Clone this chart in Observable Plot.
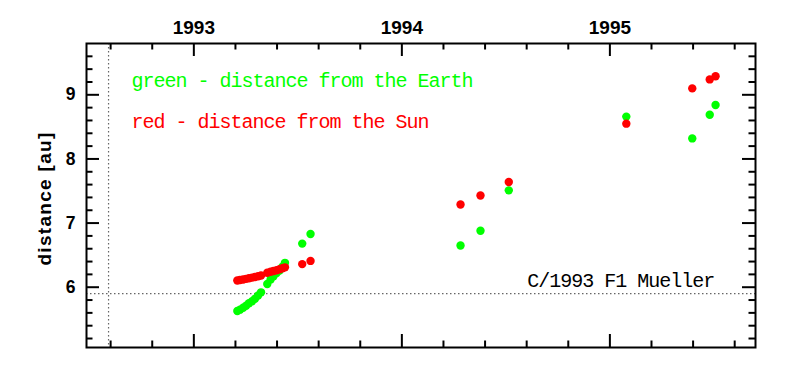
<!DOCTYPE html>
<html><head><meta charset="utf-8">
<script src="https://cdn.jsdelivr.net/npm/d3@7"></script>
<script src="https://cdn.jsdelivr.net/npm/@observablehq/plot@0.6"></script>
<style>
body{margin:0;background:#fff}
svg g[font-family="Liberation Mono"] text{letter-spacing:-1px}
</style>
</head><body><div id="chart"></div>
<script>
// observation epochs (decimal years)
const epochs = [1993.209, 1993.222, 1993.237, 1993.251, 1993.265, 1993.280, 1993.294, 1993.309, 1993.323,
  1993.353, 1993.369, 1993.383, 1993.398, 1993.412, 1993.426, 1993.438,
  1993.521, 1993.561, 1994.282, 1994.378, 1994.514, 1995.079, 1995.396, 1995.480, 1995.508];
// distance from the Earth [au]
const earthDist = [5.63, 5.65, 5.68, 5.71, 5.75, 5.78, 5.82, 5.87, 5.92,
  6.05, 6.12, 6.17, 6.22, 6.26, 6.32, 6.38,
  6.68, 6.83, 6.65, 6.88, 7.51, 8.66, 8.32, 8.69, 8.84];
// distance from the Sun [au]
const sunDist = [6.105, 6.113, 6.121, 6.130, 6.140, 6.150, 6.160, 6.172, 6.183,
  6.225, 6.240, 6.252, 6.265, 6.280, 6.295, 6.31,
  6.36, 6.41, 7.29, 7.43, 7.64, 8.55, 9.10, 9.24, 9.29];
const yearTicks = [1993, 1994, 1995];
const distTicks = [6, 7, 8, 9];
const legendLines = ["green - distance from the Earth", "red - distance from the Sun"];
const cometName = "C/1993 F1 Mueller";
const yLabel = "distance [au]";
const refDist = [5.9];
const refEpoch = [1992.59];

const W = 797, H = 377, mL = 86, mR = 42, mT = 43, mB = 30;
const iW = W - mL - mR, iH = H - mT - mB;
const xMinor = d3.range(0, 16).map(i => 1992.6 + i * 0.2).filter(v => Math.abs(v - Math.round(v)) > 0.01);
const yMinor = d3.range(0, 23).map(i => 5.2 + i * 0.2).filter(v => Math.abs(v - Math.round(v)) > 0.01);

const earth = epochs.map((t, i) => ({t, d: earthDist[i]}));
const sun = epochs.map((t, i) => ({t, d: sunDist[i]}));

const bigTick = 13, smallTick = 6.5;
const plot = Plot.plot({
  width: W, height: H,
  marginLeft: mL, marginRight: mR, marginTop: mT, marginBottom: mB,
  x: {domain: [1992.484, 1995.70]},
  y: {domain: [5.06, 9.80]},
  style: {background: "white"},
  marks: [
    Plot.ruleX(refEpoch, {stroke: "#666", strokeDasharray: "1.5,2.5", strokeWidth: 1.2}),
    Plot.ruleY(refDist, {stroke: "#666", strokeDasharray: "1.5,2.5", strokeWidth: 1.2}),
    // inward ticks
    Plot.ruleX(yearTicks, {insetTop: iH - bigTick, strokeWidth: 2}),
    Plot.ruleX(yearTicks, {insetBottom: iH - bigTick, strokeWidth: 2}),
    Plot.ruleX(xMinor, {insetTop: iH - smallTick, strokeWidth: 2}),
    Plot.ruleX(xMinor, {insetBottom: iH - smallTick, strokeWidth: 2}),
    Plot.ruleY(distTicks, {insetRight: iW - bigTick, strokeWidth: 2}),
    Plot.ruleY(distTicks, {insetLeft: iW - bigTick, strokeWidth: 2}),
    Plot.ruleY(yMinor, {insetRight: iW - smallTick, strokeWidth: 2}),
    Plot.ruleY(yMinor, {insetLeft: iW - smallTick, strokeWidth: 2}),
    Plot.frame({strokeWidth: 2}),
    Plot.axisX(yearTicks, {anchor: "top", tickSize: 0, tickPadding: 10, tickFormat: d => String(d),
      fontSize: 19, fontWeight: "bold", fontFamily: "Liberation Sans", fill: "black", label: null}),
    Plot.axisY(distTicks, {anchor: "left", tickSize: 0, tickPadding: 11, tickFormat: d => String(d),
      fontSize: 17.5, fontWeight: "bold", fontFamily: "Liberation Sans", fill: "black", label: null}),
    Plot.text([yLabel], {frameAnchor: "left", textAnchor: "middle", rotate: -90, dx: -42, dy: 3, text: d => d,
      fontSize: 19, fontWeight: "bold", fontFamily: "Liberation Sans", fill: "black"}),
    Plot.dot(earth, {x: "t", y: "d", r: 4.2, fill: "#00ff00", stroke: null}),
    Plot.dot(sun, {x: "t", y: "d", r: 4.2, fill: "#ff0000", stroke: null}),
    Plot.text([legendLines[0]], {x: () => 1992.70, y: () => 9.115, text: d => d, textAnchor: "start", lineAnchor: "bottom",
      fontSize: 20, fontFamily: "Liberation Mono", fill: "#00ff00"}),
    Plot.text([legendLines[1]], {x: () => 1992.70, y: () => 8.483, text: d => d, textAnchor: "start", lineAnchor: "bottom",
      fontSize: 20, fontFamily: "Liberation Mono", fill: "#ff0000"}),
    Plot.text([cometName], {x: () => 1994.603, y: () => 6.011, text: d => d, textAnchor: "start", lineAnchor: "bottom",
      fontSize: 20, fontFamily: "Liberation Mono", fill: "black"})
  ]
});
d3.select(plot).selectAll("text").filter(function() { return this.textContent.trim() === yLabel; })
  .attr("letter-spacing", "1.3px").style("letter-spacing", "1.3px");
document.getElementById("chart").appendChild(plot);
</script>
</body></html>
